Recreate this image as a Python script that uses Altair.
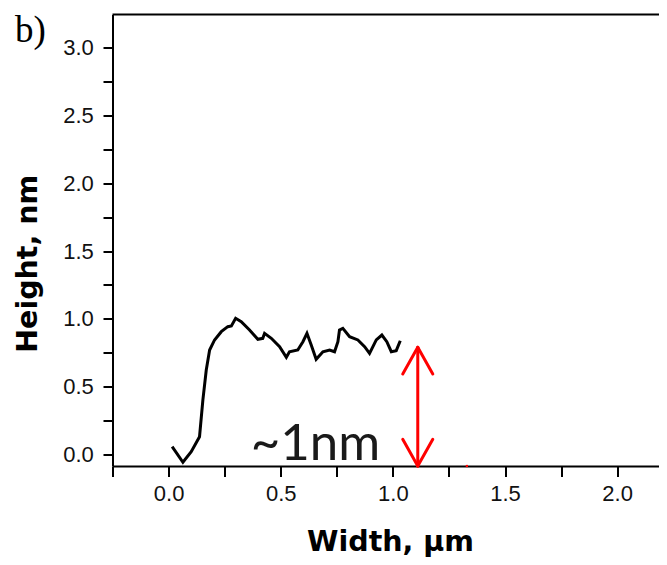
import altair as alt
import pandas as pd

# ---- data ----
width_um = [0.016, 0.064, 0.101, 0.138, 0.153, 0.168, 0.183, 0.205, 0.235, 0.264,
            0.280, 0.299, 0.324, 0.361, 0.398, 0.420, 0.428, 0.458, 0.495, 0.525,
            0.539, 0.576, 0.599, 0.617, 0.636, 0.658, 0.688, 0.718, 0.740, 0.755,
            0.762, 0.777, 0.807, 0.844, 0.874, 0.896, 0.926, 0.951, 0.973, 0.993,
            1.015, 1.033]
height_nm = [0.056, -0.059, 0.019, 0.130, 0.401, 0.622, 0.770, 0.844, 0.905, 0.942,
             0.947, 1.004, 0.979, 0.917, 0.849, 0.856, 0.893, 0.856, 0.794, 0.716,
             0.757, 0.770, 0.831, 0.893, 0.807, 0.701, 0.757, 0.770, 0.757, 0.831,
             0.917, 0.930, 0.868, 0.844, 0.794, 0.745, 0.844, 0.880, 0.831, 0.757,
             0.765, 0.838]

x_ticks = [-0.25, 0.0, 0.25, 0.5, 0.75, 1.0, 1.25, 1.5, 1.75, 2.0]
y_ticks = [0.0, 0.25, 0.5, 0.75, 1.0, 1.25, 1.5, 1.75, 2.0, 2.25, 2.5, 2.75, 3.0]
x_domain = [-0.25, 2.1865]
y_domain = [-0.0863, 3.2458]

# arrow annotation (data units)
arrow_x = 1.111
arrow_top = 0.79
arrow_bottom = -0.0863
head_dx = 0.067
head_dy = 0.197

label_text = "~1nm"
label_x = 0.655
label_y = -0.042
panel_label = "b)"
dot_x = [1.33]
dot_y = [-0.0863]

W, H = 546.5, 451.5

profile = pd.DataFrame({"x": width_um, "y": height_nm})

segs = pd.DataFrame({
    "x": [arrow_x, arrow_x - head_dx, arrow_x + head_dx, arrow_x - head_dx, arrow_x + head_dx],
    "y": [arrow_top, arrow_top - head_dy, arrow_top - head_dy, arrow_bottom + head_dy, arrow_bottom + head_dy],
    "x2": [arrow_x, arrow_x, arrow_x, arrow_x, arrow_x],
    "y2": [arrow_bottom, arrow_top, arrow_top, arrow_bottom, arrow_bottom],
})

x_axis = alt.Axis(
    values=x_ticks, format=".1f",
    labelExpr="datum.value % 0.5 == 0 ? datum.label : ''",
    title="Width, µm", titleFont="DejaVu Sans", titleFontWeight="bold", titleFontSize=28.5,
    titleColor="black", titleX=(390 - 112.5), titleY=84, titleAlign="center", titleBaseline="alphabetic",
    labelFont="Liberation Sans", labelFontSize=22, labelColor="#111", labelPadding=6.5,
    labelFlush=False, labelOverlap=False,
    tickSize=10.5, tickWidth=2, tickColor="black", domainColor="black", domainWidth=2, grid=False,
)
y_axis = alt.Axis(
    values=y_ticks, format=".1f",
    labelExpr="datum.value % 0.5 == 0 ? datum.label : ''",
    title="Height, nm", titleFont="DejaVu Sans", titleFontWeight="bold", titleFontSize=28.5,
    titleColor="black", titleAngle=270, titleX=-85, titleY=248.8, titleAlign="center",
    titleBaseline="middle",
    labelFont="Liberation Sans", labelFontSize=22, labelColor="#111", labelPadding=9.7,
    labelFlush=False, labelOverlap=False,
    tickSize=9.5, tickWidth=2, tickColor="black", domainColor="black", domainWidth=2, grid=False,
)

xs = alt.Scale(domain=x_domain, nice=False, zero=False)
ys = alt.Scale(domain=y_domain, nice=False, zero=False)

line = alt.Chart(profile).mark_line(color="black", strokeWidth=3).encode(
    x=alt.X("x:Q", scale=xs, axis=x_axis),
    y=alt.Y("y:Q", scale=ys, axis=y_axis),
)

arrow = alt.Chart(segs).mark_rule(color="#ff0000", strokeWidth=3, strokeCap="round").encode(
    x=alt.X("x:Q", scale=xs, axis=x_axis), x2="x2:Q",
    y=alt.Y("y:Q", scale=ys, axis=y_axis), y2="y2:Q",
)

dot = alt.Chart(pd.DataFrame({"x": dot_x, "y": dot_y})).mark_square(
    color="#ff0000", size=5, opacity=1).encode(
    x=alt.X("x:Q", scale=xs, axis=x_axis),
    y=alt.Y("y:Q", scale=ys, axis=y_axis),
)

txt = alt.Chart(pd.DataFrame({"x": [label_x], "y": [label_y], "t": [label_text]})).mark_text(
    font="Lato", fontSize=51, color="#1a1a1a", align="center", baseline="alphabetic"
).encode(
    x=alt.X("x:Q", scale=xs, axis=x_axis),
    y=alt.Y("y:Q", scale=ys, axis=y_axis),
    text="t:N",
)

top_border = alt.Chart(pd.DataFrame({"a": [0]})).mark_rule(color="black", strokeWidth=2).encode(
    x=alt.value(0), x2=alt.value(W), y=alt.value(0)
)

blabel = alt.Chart(pd.DataFrame({"t": [panel_label]})).mark_text(
    font="Liberation Serif", fontSize=37, color="black", align="left", baseline="alphabetic"
).encode(
    x=alt.value(-97.5), y=alt.value(27), text="t:N"
)

chart = alt.layer(line, arrow, dot, txt, top_border, blabel).properties(
    width=W, height=H,
    autosize=alt.AutoSizeParams(type="none"),
    padding={"left": 104.5, "top": 6.5, "right": 0, "bottom": 98},
).configure_view(stroke=None)

chart.save("out.html", embed_options={"renderer": "svg", "actions": False})
